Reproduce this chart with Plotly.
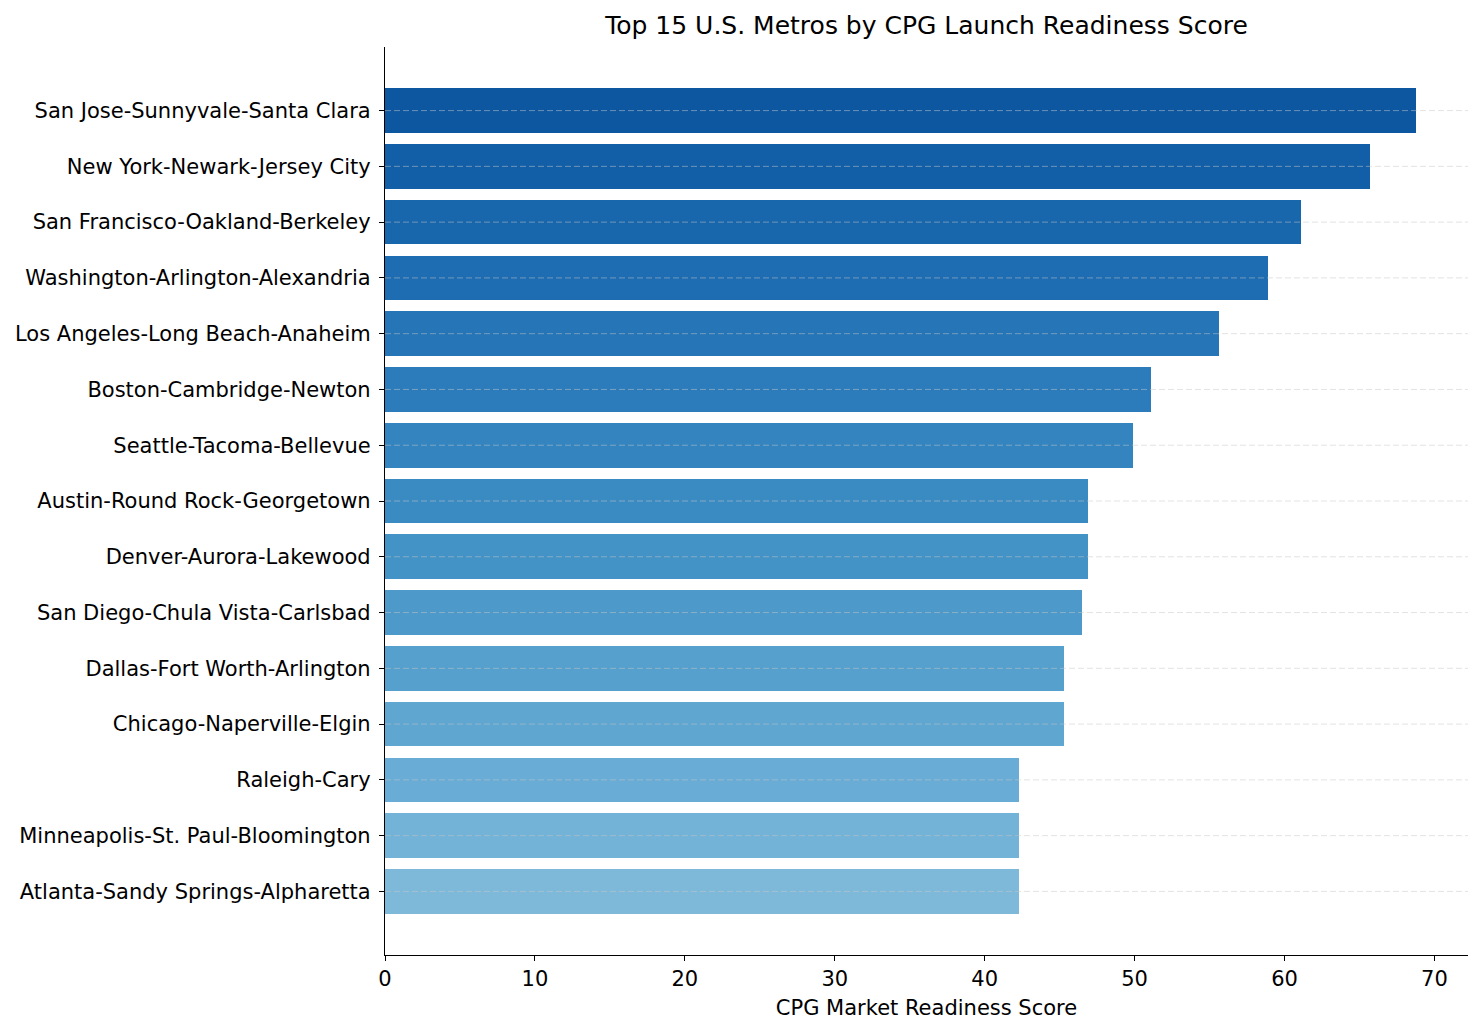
import plotly.graph_objects as go
from plotly.colors import sample_colorscale
import numpy as np

metros = [
    "San Jose-Sunnyvale-Santa Clara",
    "New York-Newark-Jersey City",
    "San Francisco-Oakland-Berkeley",
    "Washington-Arlington-Alexandria",
    "Los Angeles-Long Beach-Anaheim",
    "Boston-Cambridge-Newton",
    "Seattle-Tacoma-Bellevue",
    "Austin-Round Rock-Georgetown",
    "Denver-Aurora-Lakewood",
    "San Diego-Chula Vista-Carlsbad",
    "Dallas-Fort Worth-Arlington",
    "Chicago-Naperville-Elgin",
    "Raleigh-Cary",
    "Minneapolis-St. Paul-Bloomington",
    "Atlanta-Sandy Springs-Alpharetta",
]
scores = [68.8, 65.7, 61.1, 58.9, 55.6, 51.1, 49.9, 46.9, 46.9, 46.5, 45.3, 45.3, 42.3, 42.3, 42.3]
x_ticks = [0, 10, 20, 30, 40, 50, 60, 70]

colors = sample_colorscale("Blues", list(np.linspace(0.85, 0.45, len(metros))))

# plot bottom-to-top so first metro is on top
y_cats = metros[::-1]
x_vals = scores[::-1]
bar_colors = colors[::-1]

fig = go.Figure()
fig.add_trace(go.Bar(
    x=x_vals, y=y_cats, orientation="h",
    marker=dict(color=bar_colors, line=dict(width=0)),
    width=0.8,
))

shapes = []
for cat in y_cats:
    shapes.append(dict(type="line", xref="paper", yref="y", x0=0, x1=1, y0=cat, y1=cat,
                       line=dict(color="rgba(200,200,200,0.5)", width=1, dash="6px,3px"),
                       layer="above"))

xmax = max(scores) * 1.05
fig.update_layout(
    width=1484, height=1035,
    margin=dict(l=385, r=16, t=47, b=80),
    paper_bgcolor="white", plot_bgcolor="white",
    font=dict(family="DejaVu Sans", size=21, color="black"),
    title=dict(text="Top 15 U.S. Metros by CPG Launch Readiness Score", x=(385 + 1468) / 2 / 1484,
               xanchor="center", y=1 - 25 / 1035, yanchor="middle", font=dict(size=25)),
    showlegend=False,
    shapes=shapes,
    bargap=0,
)
fig.update_xaxes(
    range=[0, xmax], tickvals=x_ticks, ticktext=[str(t) for t in x_ticks],
    showline=True, linecolor="black", linewidth=1.2, ticks="outside", ticklen=5, tickcolor="black",
    showgrid=False, zeroline=False,
    title=dict(text="CPG Market Readiness Score", standoff=10, font=dict(size=21)),
    tickfont=dict(size=21),
)
fig.update_yaxes(
    type="category", categoryorder="array", categoryarray=y_cats,
    range=[-1.14, len(y_cats) - 1 + 1.14],
    showline=True, linecolor="black", linewidth=1.2, ticks="outside", ticklen=5, tickcolor="black",
    showgrid=False, zeroline=False, tickfont=dict(size=21), ticklabelstandoff=4,
)

fig.write_html("out.html")
